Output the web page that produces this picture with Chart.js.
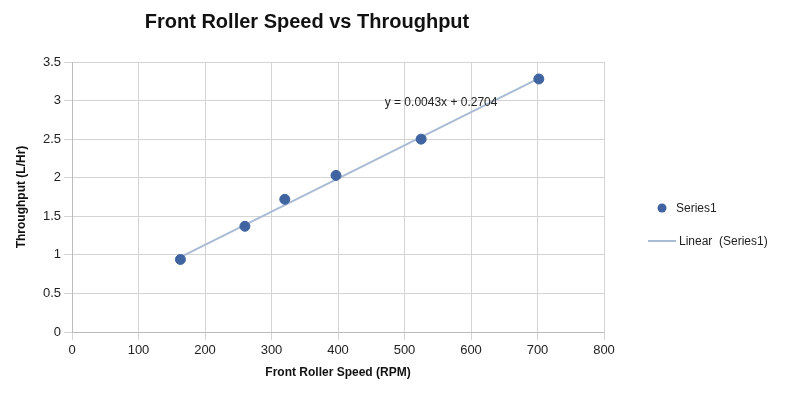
<!DOCTYPE html>
<html>
<head>
<meta charset="utf-8">
<script src="https://cdn.jsdelivr.net/npm/chart.js@4/dist/chart.umd.min.js"></script>
<style>
  html, body { margin: 0; padding: 0; background: #fff; }
  #wrap { width: 800px; height: 402px; }
</style>
</head>
<body>
<div id="wrap"><canvas id="chart" width="800" height="402"></canvas></div>
<script>
// Data
const speedRpm = [163, 260, 320, 397, 525, 702];
const throughput = [0.94, 1.37, 1.72, 2.03, 2.50, 3.28];
const slope = 0.0043;
const intercept = 0.2704;
const trendX = [163, 702];

const pointColor = '#3f64a0';
const trendColor = '#a9bcd4';

// Legend + equation drawn beside the plot
const sideLegend = {
    id: 'sideLegend',
    afterDraw(chart) {
        const ctx = chart.ctx;
        const xs = chart.scales.x, ys = chart.scales.y;
        ctx.save();
        ctx.font = '12px "Liberation Sans", Arial, sans-serif';
        ctx.fillStyle = '#222';
        ctx.textBaseline = 'middle';
        ctx.textAlign = 'center';
        ctx.fillText('y = 0.0043x + 0.2704', xs.getPixelForValue(555), ys.getPixelForValue(2.97));

        ctx.textAlign = 'left';
        ctx.beginPath();
        ctx.arc(662, 208, 4.5, 0, Math.PI * 2);
        ctx.fillStyle = pointColor;
        ctx.fill();
        ctx.fillStyle = '#222';
        ctx.fillText('Series1', 676, 209);

        ctx.strokeStyle = trendColor;
        ctx.lineWidth = 2;
        ctx.beginPath();
        ctx.moveTo(648, 241);
        ctx.lineTo(676, 241);
        ctx.stroke();
        ctx.fillText('Linear  (Series1)', 679, 242);
        ctx.restore();
    }
};

new Chart(document.getElementById('chart'), {
    type: 'scatter',
    data: {
        datasets: [
            {
                label: 'Series1',
                data: speedRpm.map((x, i) => ({ x: x, y: throughput[i] })),
                backgroundColor: pointColor,
                borderColor: pointColor,
                pointRadius: 5,
                order: 1
            },
            {
                label: 'Linear (Series1)',
                type: 'line',
                data: trendX.map(x => ({ x: x, y: slope * x + intercept })),
                borderColor: trendColor,
                borderWidth: 2,
                pointRadius: 0,
                fill: false,
                order: 2
            }
        ]
    },
    options: {
        responsive: false,
        animation: false,
        layout: { padding: { left: 10, right: 196, top: 8, bottom: 18 } },
        plugins: {
            legend: { display: false },
            tooltip: { enabled: false },
            title: {
                display: true,
                text: 'Front Roller Speed vs Throughput',
                color: '#111',
                font: { family: '"Liberation Sans", Arial, sans-serif', size: 20, weight: 'bold' },
                padding: { top: 2, bottom: 28 }
            }
        },
        scales: {
            x: {
                type: 'linear',
                min: 0, max: 800,
                ticks: { stepSize: 100, color: '#222', font: { size: 13 } },
                grid: { color: '#d4d4d4' },
                border: { color: '#bbb' },
                title: {
                    display: true, text: 'Front Roller Speed (RPM)', color: '#111',
                    font: { size: 12, weight: 'bold' }
                }
            },
            y: {
                min: 0, max: 3.5,
                ticks: {
                    stepSize: 0.5, color: '#222', font: { size: 13 },
                    callback: value => String(value)
                },
                grid: { color: '#d4d4d4' },
                border: { color: '#bbb' },
                title: {
                    display: true, text: 'Throughput (L/Hr)', color: '#111',
                    font: { size: 12, weight: 'bold' }
                },
                afterFit(scale) { scale.width = 62; }
            }
        }
    },
    plugins: [sideLegend]
});
</script>
</body>
</html>
